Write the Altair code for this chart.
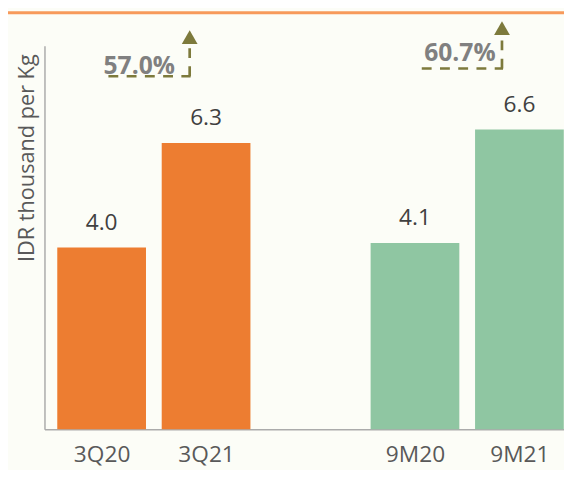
import altair as alt
import pandas as pd

# ---- data ----
periods = ["3Q20", "3Q21", "9M20", "9M21"]
slot = [0, 1, 3, 4]                      # axis order; slot 2 is the empty gap
values = [4.0, 6.3, 4.1, 6.6]            # IDR thousand per Kg
value_labels = ["4.0", "6.3", "4.1", "6.6"]
group = ["Quarter", "Quarter", "Nine months", "Nine months"]

growth_labels = ["57.0%", "60.7%"]
# annotation anchors in data units (x: slot units, y: IDR thousand per Kg)
growth_text_x = [0.86, 3.93]
growth_text_y = [7.81, 8.11]
growth_line_x0 = [0.565, 3.565]
growth_line_x1 = [1.352, 4.343]
growth_line_y = [7.77, 7.94]
growth_arrow_x = [1.343, 4.333]
growth_arrow_base = [8.46, 8.66]
growth_arrow_mid = [8.63, 8.83]

FONT = "Open Sans"
OLIVE = "#7D7A3C"
AXIS_GREY = "#ABABAB"

PLOT_W = 527          # visible plot width (the last bar runs off the right edge)
PLOT_H = 389
SLOT_PX = 108         # width of one category slot

bars_df = pd.DataFrame({
    "period": periods,
    "pos": [s + 0.5 for s in slot],
    "value": values,
    "label": value_labels,
    "group": group,
})
ann_df = pd.DataFrame({
    "label": growth_labels,
    "tx": growth_text_x,
    "ty": growth_text_y,
    "lx0": growth_line_x0,
    "lx1": growth_line_x1,
    "ly": growth_line_y,
    "ax": growth_arrow_x,
    "ab": growth_arrow_base,
    "am": growth_arrow_mid,
})

n_slots = max(slot) + 1
slot_names = [""] * n_slots
for s, p in zip(slot, periods):
    slot_names[s] = p
label_expr = "[" + ",".join("'" + n + "'" for n in slot_names) + "][floor(datum.value)]"

x_scale = alt.Scale(domain=[0, PLOT_W / SLOT_PX], nice=False, zero=False)
y_scale = alt.Scale(domain=[0, 8.44], nice=False, zero=True)

x_axis = alt.Axis(
    values=[s + 0.5 for s in slot], labelExpr=label_expr, title=None,
    ticks=False, tickSize=0, grid=False, domainColor=AXIS_GREY, domainWidth=1.5,
    labelFont=FONT, labelFontSize=23, labelColor="#595959",
    labelBaseline="alphabetic", labelPadding=33, labelAngle=0,
)
y_axis = alt.Axis(
    labels=False, ticks=False, tickSize=0, grid=False,
    domainColor=AXIS_GREY, domainWidth=1.5,
    title="IDR thousand per Kg", titleFont=FONT, titleFontSize=22,
    titleFontWeight="normal", titleColor="#595959", titleAngle=-90,
    titleX=-11, titleY=113.5, titleAlign="center", titleBaseline="alphabetic",
)

base = alt.Chart(bars_df)

bars = base.mark_bar(size=90).encode(
    x=alt.X("pos:Q", scale=x_scale, axis=x_axis),
    y=alt.Y("value:Q", scale=y_scale, axis=y_axis),
    color=alt.Color("group:N",
                    scale=alt.Scale(domain=["Quarter", "Nine months"],
                                    range=["#ED7D31", "#8FC6A2"]),
                    legend=None),
)

value_text = base.mark_text(
    baseline="alphabetic", align="center", dy=-18,
    font=FONT, fontSize=23, color="#404040",
).encode(
    x=alt.X("pos:Q", scale=x_scale, axis=x_axis),
    y=alt.Y("value:Q", scale=y_scale, axis=y_axis),
    text="label:N",
)

ann = alt.Chart(ann_df)

growth_text = ann.mark_text(
    baseline="alphabetic", align="center", font=FONT, fontSize=25,
    fontWeight="bold", color="#808080",
).encode(
    x=alt.X("tx:Q", scale=x_scale, axis=x_axis),
    y=alt.Y("ty:Q", scale=y_scale, axis=y_axis),
    text="label:N",
)

h_line = ann.mark_rule(color=OLIVE, strokeWidth=2.7, strokeDash=[10, 8.5]).encode(
    x=alt.X("lx0:Q", scale=x_scale, axis=x_axis),
    x2="lx1:Q",
    y=alt.Y("ly:Q", scale=y_scale, axis=y_axis),
)

v_line = ann.mark_rule(color=OLIVE, strokeWidth=2.7, strokeDash=[10, 8.5]).encode(
    x=alt.X("ax:Q", scale=x_scale, axis=x_axis),
    y=alt.Y("ly:Q", scale=y_scale, axis=y_axis),
    y2="ab:Q",
)

arrow = ann.mark_point(shape="triangle-up", size=256, filled=True,
                       color=OLIVE, opacity=1).encode(
    x=alt.X("ax:Q", scale=x_scale, axis=x_axis),
    y=alt.Y("am:Q", scale=y_scale, axis=y_axis),
)

top_band = alt.Chart(bars_df.head(1)).mark_rule(
    color="#F79A5B", strokeWidth=3
).encode(x=alt.value(-37), x2=alt.value(PLOT_W), y=alt.value(-33.5))

chart = alt.layer(bars, value_text, h_line, v_line, arrow, growth_text, top_band).properties(
    width=PLOT_W,
    height=PLOT_H,
    padding={"left": 37, "top": 35, "right": 0, "bottom": 38},
    autosize=alt.AutoSizeParams(type="none"),
    background="#FCFDF7",
).configure_view(stroke=None)

chart.save("out.html", embed_options={"renderer": "svg", "actions": False})
